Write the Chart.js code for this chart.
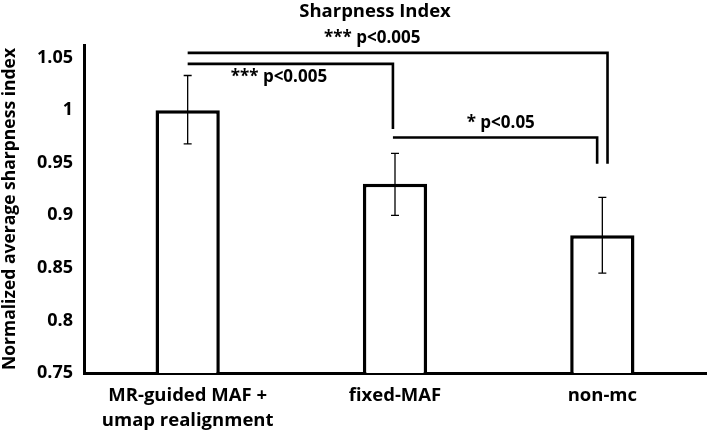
<!DOCTYPE html>
<html>
<head>
<meta charset="utf-8">
<script src="https://cdn.jsdelivr.net/npm/chart.js@4"></script>
<style>
  html, body { margin: 0; padding: 0; background: #fff; }
  #wrap { width: 709px; height: 432px; }
</style>
</head>
<body>
<div id="wrap"><canvas id="chart" width="709" height="432"></canvas></div>
<script>
// data
let categories = [["MR-guided MAF +", "umap realignment"], "fixed-MAF", "non-mc"];
let sharpness = [1.0, 0.93, 0.881];
let errUp = [0.033, 0.029, 0.036];
let errDown = [0.032, 0.030, 0.036];
let yTicks = [0.75, 0.8, 0.85, 0.9, 0.95, 1, 1.05];

// significance brackets: from/to category index, line level, drop level, label
let brackets = [
  { from: 0, to: 2, toShift: 0.025, level: 1.0545, drop: 0.949, label: "*** p<0.005", labelX: 0.89, labelDy: -15 },
  { from: 0, to: 1, toShift: -0.01, level: 1.044, drop: 0.982, label: "*** p<0.005", labelX: 0.44, labelDy: 13 },
  { from: 1, to: 2, fromShift: -0.01, toShift: -0.025, level: 0.974, drop: 0.949, label: "* p<0.05", labelX: 1.51, labelDy: -14 }
];

const FONT = "'Open Sans', sans-serif";

let extras = {
  id: "extras",
  afterDatasetsDraw(chart) {
    let ctx = chart.ctx;
    let x = chart.scales.x, y = chart.scales.y;
    let bars = chart.getDatasetMeta(0).data;
    ctx.save();

    // error bars
    ctx.strokeStyle = "#000";
    ctx.lineWidth = 1.3;
    bars.forEach(function (bar, i) {
      let top = y.getPixelForValue(sharpness[i] + errUp[i]);
      let bot = y.getPixelForValue(sharpness[i] - errDown[i]);
      ctx.beginPath();
      ctx.moveTo(bar.x, top); ctx.lineTo(bar.x, bot);
      ctx.moveTo(bar.x - 4, top); ctx.lineTo(bar.x + 4, top);
      ctx.moveTo(bar.x - 4, bot); ctx.lineTo(bar.x + 4, bot);
      ctx.stroke();
    });

    // brackets
    ctx.lineWidth = 2.6;
    ctx.font = "bold 17px " + FONT;
    ctx.fillStyle = "#000";
    ctx.textAlign = "center";
    ctx.textBaseline = "middle";
    brackets.forEach(function (b) {
      let x1 = x.getPixelForValue(b.from + (b.fromShift || 0));
      let x2 = x.getPixelForValue(b.to + (b.toShift || 0));
      let ly = y.getPixelForValue(b.level);
      let dy = y.getPixelForValue(b.drop);
      ctx.beginPath();
      ctx.moveTo(x1, ly); ctx.lineTo(x2, ly); ctx.lineTo(x2, dy);
      ctx.stroke();
      ctx.fillText(b.label, x.getPixelForValue(b.labelX), ly + b.labelDy);
    });

    // title
    ctx.font = "bold 18.5px " + FONT;
    ctx.fillText("Sharpness Index", 375, 12);
    ctx.restore();
  }
};

new Chart(document.getElementById("chart"), {
  type: "bar",
  data: {
    labels: categories,
    datasets: [{
      data: sharpness,
      backgroundColor: "#fff",
      borderColor: "#000",
      borderWidth: 3.5,
      barPercentage: 1,
      categoryPercentage: 0.31
    }]
  },
  options: {
    responsive: false,
    animation: false,
    events: [],
    layout: { padding: { top: 45, right: 3, left: 0, bottom: 0 } },
    plugins: { legend: { display: false }, tooltip: { enabled: false } },
    scales: {
      x: {
        grid: { display: false, drawTicks: false },
        border: { display: true, color: "#000", width: 3 },
        ticks: { color: "#000", font: { family: FONT, size: 18.5, weight: "bold", lineHeight: 1.35 }, padding: 10, maxRotation: 0, autoSkip: false },
        afterFit: function (s) { s.height = 59; }
      },
      y: {
        min: 0.75,
        max: 1.062,
        grid: { display: false, drawTicks: false },
        border: { display: true, color: "#000", width: 3 },
        afterBuildTicks: function (s) { s.ticks = yTicks.map(function (v) { return { value: v }; }); },
        ticks: {
          color: "#000",
          padding: 11,
          font: { family: FONT, size: 18, weight: "bold" },
          callback: function (v) { return String(+v.toFixed(2)); }
        },
        title: {
          display: true,
          text: "Normalized average sharpness index",
          color: "#000",
          font: { family: FONT, size: 17.5, weight: "bold" },
          padding: { top: 0, bottom: 0 }
        },
        afterFit: function (s) { s.width = 84; }
      }
    }
  },
  plugins: [extras]
});
</script>
</body>
</html>
